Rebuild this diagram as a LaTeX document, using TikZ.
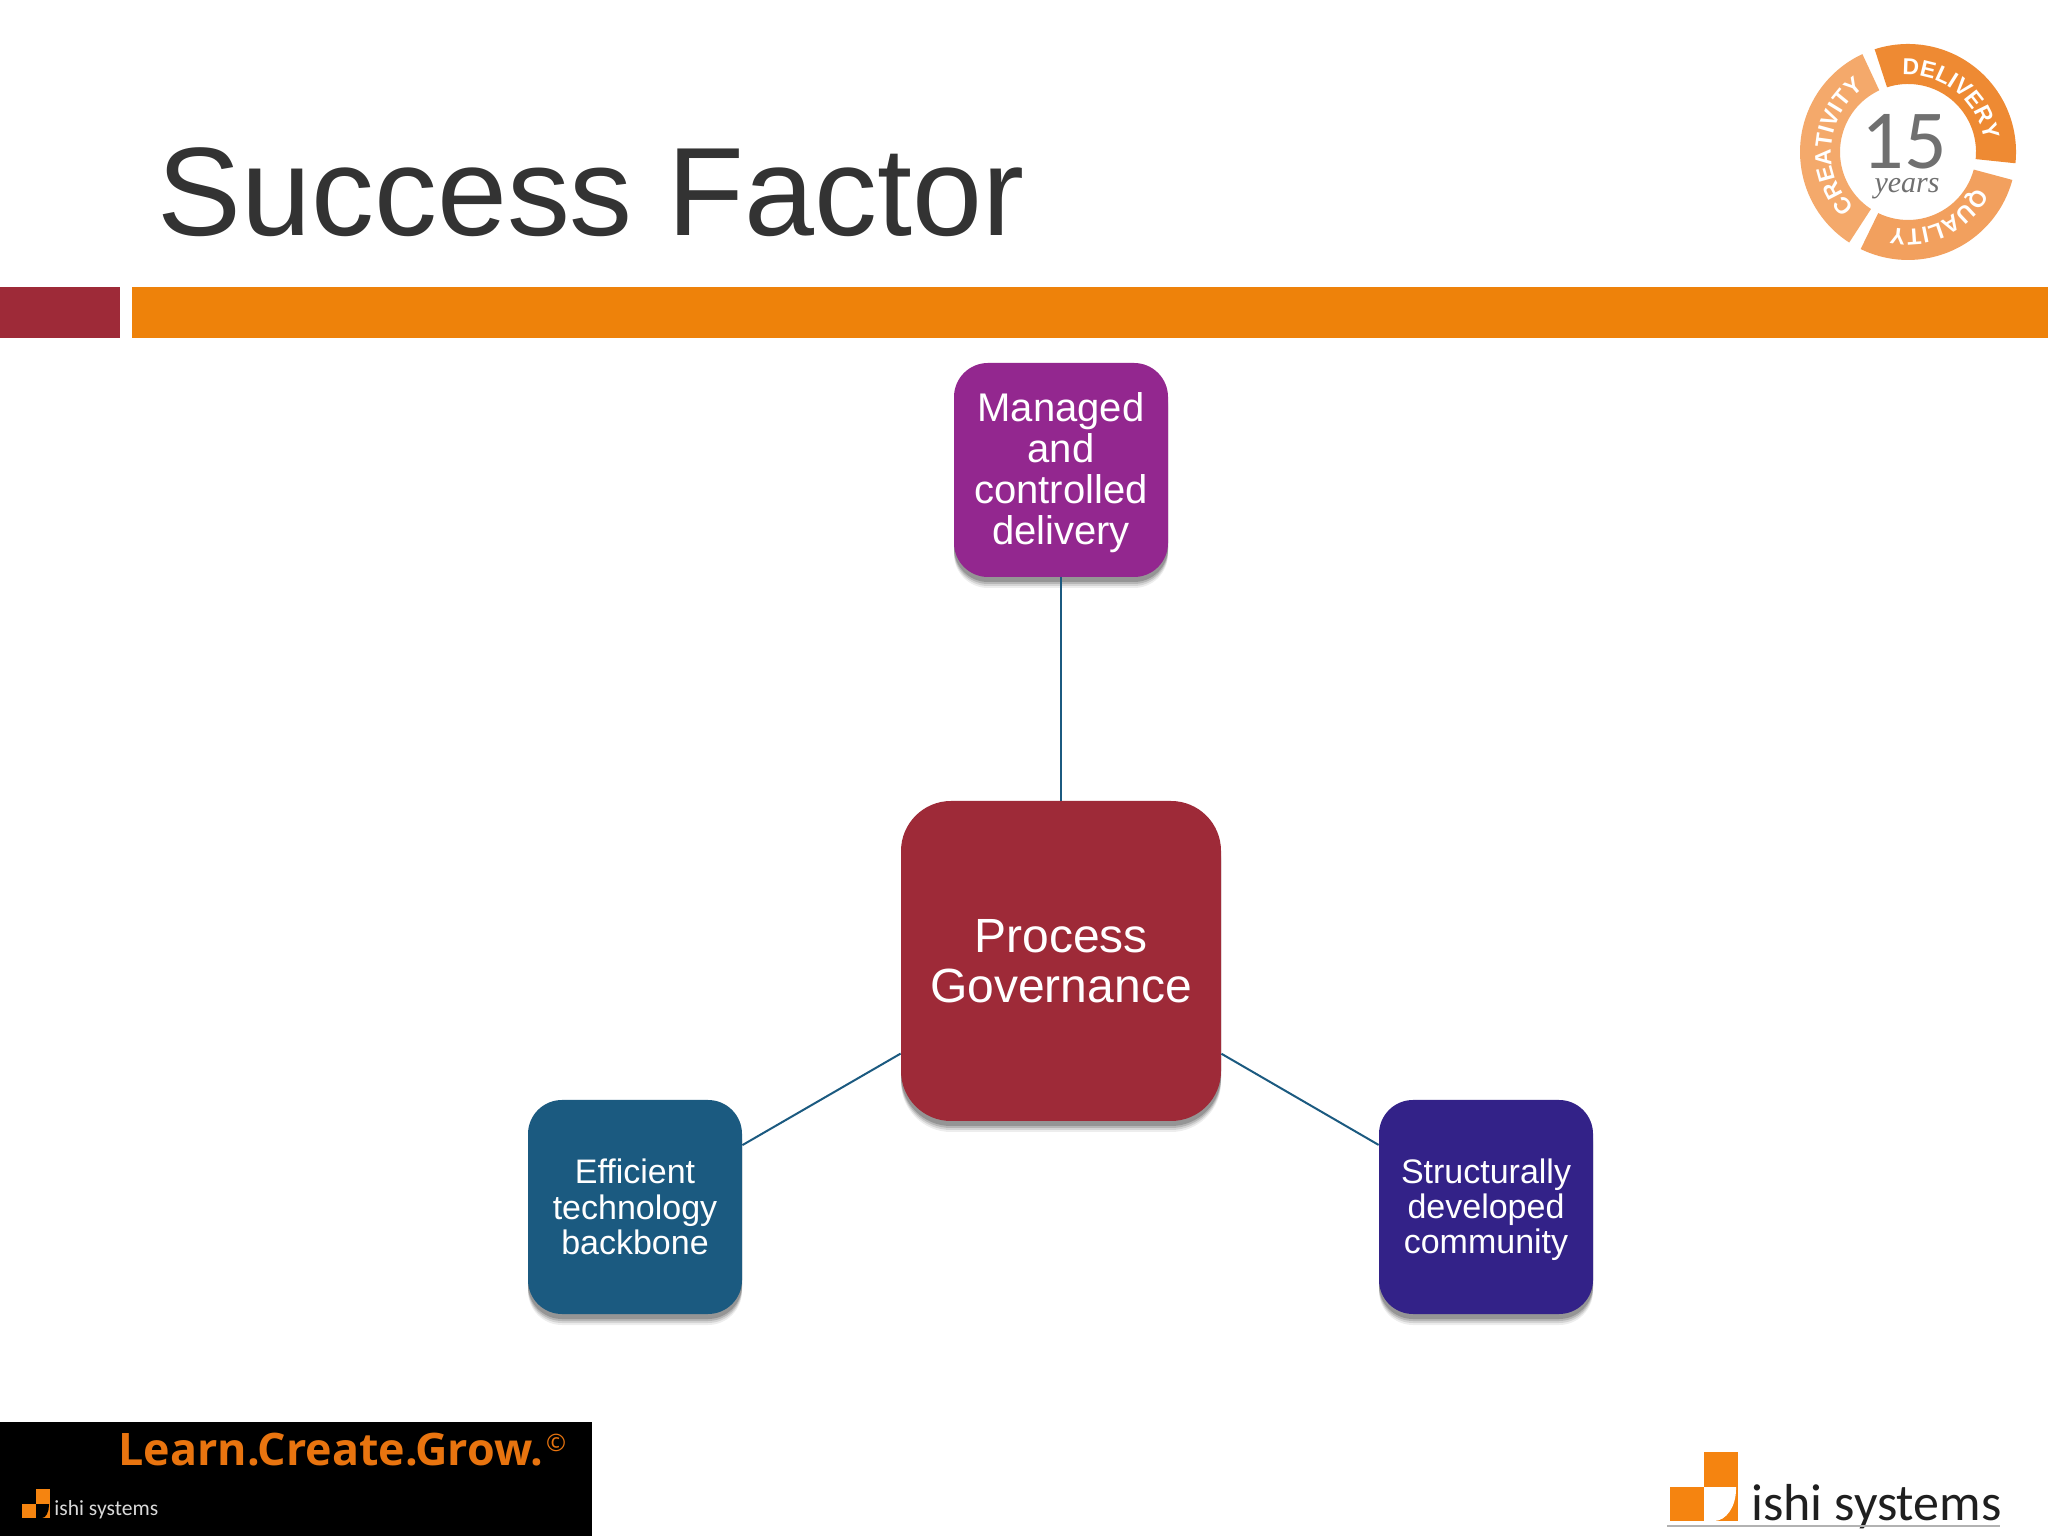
\documentclass[tikz,border=0pt]{standalone}
\usepackage{fontspec}
\setmainfont{Liberation Sans}
\newfontfamily\logofont{Open Sans}
\newfontfamily\calfont{Carlito}
\newfontfamily\serfont{Liberation Serif}
\usetikzlibrary{shadows,decorations.text}
\definecolor{ttl}{HTML}{333333}
\definecolor{barred}{HTML}{9E2A38}
\definecolor{barorange}{HTML}{EE820A}
\definecolor{purplebox}{HTML}{93278F}
\definecolor{redbox}{HTML}{9E2A38}
\definecolor{tealbox}{HTML}{1B5A80}
\definecolor{indigobox}{HTML}{332288}
\definecolor{linkc}{HTML}{1B5A80}
\definecolor{logoor}{HTML}{F58410}
\definecolor{blackor}{HTML}{E8740F}
\definecolor{segA}{HTML}{EE8A33}
\definecolor{segB}{HTML}{F2A05E}
\definecolor{segC}{HTML}{F4A96B}
\definecolor{grey15}{HTML}{707070}
\tikzset{
  softshadow/.style={
    drop shadow={shadow xshift=0pt,shadow yshift=-5.5pt,opacity=.07,fill=black},
    drop shadow={shadow xshift=0pt,shadow yshift=-4.5pt,opacity=.10,fill=black},
    drop shadow={shadow xshift=0pt,shadow yshift=-3.5pt,opacity=.14,fill=black},
    drop shadow={shadow xshift=0pt,shadow yshift=-2.5pt,opacity=.18,fill=black}},
  smallbox/.style={rounded corners=17pt,minimum size=107pt,inner sep=0pt,align=center,text=white,softshadow},
  hubbox/.style={rounded corners=25pt,minimum size=160pt,inner sep=0pt,align=center,text=white,softshadow},
  link/.style={draw=linkc,line width=1pt},
  ringtext/.style={decorate,decoration={text along path,text align=center,
    text={|\fontsize{11.5}{13}\selectfont\bfseries\color{white}|#1}}}
}
\begin{document}
\begin{tikzpicture}[x=0.5pt,y=0.5pt]
\useasboundingbox (0,0) rectangle (2048,1536);
\fill[white] (0,0) rectangle (2048,1536);
% title and bars
\node[anchor=base west,inner sep=0pt,text=ttl,font=\fontsize{62.9}{70}\selectfont] (title) at (157,1300) {Success Factor};
\fill[barred] (0,1198) rectangle (120,1249);
\fill[barorange] (132,1198) rectangle (2048,1249);
% links and boxes
\node[smallbox,fill=purplebox,font=\fontsize{20}{20.5}\selectfont] (top) at (1061,1066) {\rule{0pt}{17.2pt}Managed\\and\\controlled\\delivery};
\node[hubbox,fill=redbox,font=\fontsize{24}{25}\selectfont] (hub) at (1061,575) {Process\\Governance};
\node[smallbox,fill=tealbox,font=\fontsize{17}{17.7}\selectfont] (left) at (635,329) {Efficient\\technology\\backbone};
\node[smallbox,fill=indigobox,font=\fontsize{17}{17.7}\selectfont] (right) at (1486,329) {\rule{0pt}{15pt}Structurally\\developed\\community};
\draw[link] (top) -- (hub);
\draw[link] (hub) -- (left);
\draw[link] (hub) -- (right);
% badge
\begin{scope}[shift={(1908,1384)}]
  \fill[segA] (108:108) arc (108:-6:108) -- (-6:68) arc (-6:108:68) -- cycle;
  \fill[segB] (-15:108) arc (-15:-116:108) -- (-116:68) arc (-116:-15:68) -- cycle;
  \fill[segC] (237:108) arc (237:115:108) -- (115:68) arc (115:237:68) -- cycle;
  \path[ringtext=DELIVERY] (95:77) arc (95:8:77);
  \path[ringtext=QUALITY] (-25:77) arc (-25:-105:77);
  \path[ringtext=CREATIVITY] (225:77) arc (225:125:77);
  \node[text=grey15,inner sep=0pt,font=\calfont\fontsize{42}{42}\selectfont] (fifteen) at (-4,10) {15};
  \node[text=grey15,inner sep=0pt,font=\serfont\itshape\fontsize{15}{15}\selectfont] (years) at (-1,-37) {years};
\end{scope}
% bottom-left banner
\fill[black] (0,0) rectangle (592,114);
\node[anchor=base west,inner sep=0pt,text=blackor,font=\logofont\bfseries\fontsize{22.4}{24}\selectfont] (tag) at (118,71) {Learn.Create.Grow.};
\node[text=blackor,inner sep=0pt,font=\logofont\fontsize{12}{12}\selectfont] (copy) at (556,93) {©};
\fill[logoor] (36,32) rectangle (50,47);
\fill[logoor] (22,18) rectangle (50,32);
\fill[black] (36,32) -- (36,18) -- (42,18) arc (270:360:7 and 13) -- (49,32) -- cycle;
\node[anchor=base west,inner sep=0pt,text=white!85!black,font=\calfont\fontsize{10.8}{12}\selectfont] (small) at (54,21) {ishi systems};
% bottom-right logo
\fill[logoor] (1704,49) rectangle (1738,84);
\fill[logoor] (1670,15) rectangle (1738,49);
\fill[white] (1704,49) -- (1704,15) -- (1714,15) arc (270:360:22 and 32) -- (1736,49) -- cycle;
\node[anchor=base west,inner sep=0pt,text=ttl!60!black,font=\calfont\fontsize{26}{28}\selectfont] (brand) at (1751,16) {ishi systems};
\draw[black!30,line width=.7pt] (1667,10) -- (2000,10);
\end{tikzpicture}
\end{document}
